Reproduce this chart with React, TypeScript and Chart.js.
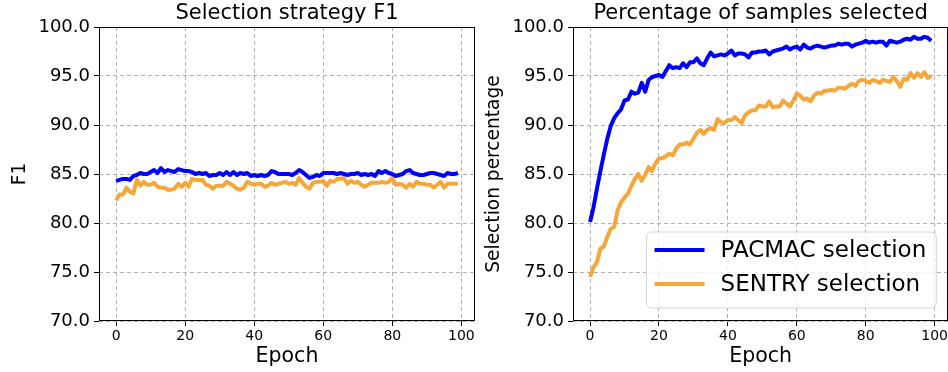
import React, { useEffect, useRef } from "react";
import { Chart, registerables } from "chart.js";
Chart.register(...registerables);

const EPOCHS = Array.from({ length: 100 }, (_, i) => i);
const X_TICKS = [0, 20, 40, 60, 80, 100];
const Y_TICKS = [70, 75, 80, 85, 90, 95, 100];

const SERIES_NAMES = ["PACMAC selection", "SENTRY selection"];

const F1_PACMAC = [
  84.3, 84.4, 84.5, 84.5, 84.4, 84.8, 84.9, 85.1, 85.0, 85.0,
  85.2, 85.4, 85.1, 85.6, 85.2, 85.4, 85.3, 85.2, 85.5, 85.4,
  85.3, 85.3, 85.2, 85.0, 85.1, 85.0, 85.1, 84.8, 84.9, 84.9,
  85.1, 84.9, 85.2, 84.9, 85.2, 84.9, 85.1, 85.0, 85.1, 84.8,
  84.9, 84.8, 84.9, 84.8, 84.9, 85.3, 85.2, 85.0, 85.0, 85.0,
  85.0, 84.9, 85.1, 85.4, 85.2, 84.9, 84.6, 84.7, 84.9, 84.8,
  85.1, 85.1, 85.1, 85.1, 85.0, 85.1, 85.0, 84.9, 85.0, 85.0,
  85.1, 84.9, 85.0, 84.9, 85.0, 84.8, 85.3, 85.1, 85.3, 85.1,
  85.0, 84.8, 84.9, 85.0, 85.3, 85.4, 85.1, 85.0, 84.9, 84.9,
  85.0, 85.1, 85.1, 85.0, 84.9, 84.8, 85.1, 85.0, 85.0, 85.1,
];
const F1_SENTRY = [
  82.3, 82.9, 82.9, 83.6, 83.2, 83.0, 84.4, 83.8, 84.2, 83.9,
  83.9, 84.1, 83.7, 83.6, 83.6, 83.4, 83.4, 83.5, 84.0, 83.7,
  84.1, 83.7, 84.5, 84.4, 84.4, 84.4, 83.9, 83.8, 83.5, 83.8,
  83.8, 83.8, 84.2, 84.0, 83.8, 83.5, 83.4, 83.6, 84.2, 84.0,
  83.9, 84.0, 84.0, 83.7, 83.8, 84.1, 83.9, 84.0, 84.1, 84.2,
  84.0, 84.1, 83.9, 84.6, 84.1, 83.7, 83.5, 84.1, 84.2, 84.2,
  84.3, 83.8, 84.3, 84.2, 84.5, 84.5, 84.6, 84.0, 84.3, 84.1,
  84.2, 83.9, 83.7, 83.9, 84.1, 84.1, 84.1, 84.2, 84.1, 84.2,
  84.6, 83.9, 84.0, 83.9, 83.6, 84.0, 83.7, 84.2, 84.0, 84.0,
  83.9, 83.9, 83.6, 83.9, 84.2, 83.6, 84.0, 84.0, 84.0, 84.0,
];
const SEL_PACMAC = [
  80.1, 81.6, 83.5, 85.3, 87.0, 88.6, 89.9, 90.7, 91.2, 91.6,
  92.5, 92.6, 93.4, 93.2, 93.3, 94.3, 93.4, 94.6, 94.9, 95.0,
  95.1, 94.9, 95.5, 96.1, 95.8, 95.9, 95.8, 96.3, 95.9, 96.4,
  96.4, 96.8, 96.3, 96.1, 96.8, 97.4, 97.0, 97.1, 97.2, 97.1,
  97.3, 97.6, 97.1, 97.3, 97.3, 97.2, 96.9, 97.4, 97.4, 97.5,
  97.5, 97.6, 97.2, 97.5, 97.6, 97.7, 97.8, 98.0, 97.7, 97.9,
  98.0, 97.7, 98.2, 97.9, 97.8, 98.0, 98.1, 98.0, 97.9, 98.0,
  98.1, 98.1, 98.3, 98.2, 98.3, 98.3, 98.0, 98.2, 98.3, 98.4,
  98.6, 98.4, 98.5, 98.4, 98.5, 98.5, 98.1, 98.6, 98.5, 98.4,
  98.5, 98.7, 98.8, 98.7, 99.0, 98.8, 98.8, 99.0, 98.9, 98.6,
];
const SEL_SENTRY = [
  74.5, 75.5, 76.0, 77.4, 77.6, 78.6, 79.4, 79.6, 81.3, 82.1,
  82.6, 83.0, 83.8, 84.5, 85.0, 84.3, 84.9, 85.7, 85.3, 86.1,
  86.6, 86.6, 86.8, 87.1, 86.9, 87.6, 88.0, 88.0, 88.2, 88.0,
  88.6, 89.2, 89.5, 89.1, 89.5, 89.7, 89.5, 90.6, 90.3, 90.2,
  90.5, 90.5, 90.8, 90.5, 90.2, 91.0, 91.3, 91.5, 91.5, 92.0,
  91.9, 91.9, 92.4, 91.8, 91.9, 91.9, 92.5, 92.2, 91.9, 92.5,
  93.2, 93.0, 92.6, 92.7, 92.4, 93.0, 93.3, 93.2, 93.5, 93.5,
  93.6, 93.5, 93.8, 93.8, 93.7, 94.0, 94.2, 94.0, 94.5, 94.6,
  94.5, 94.3, 94.6, 94.5, 94.3, 94.6, 94.5, 94.4, 94.9, 94.5,
  93.9, 94.7, 94.6, 95.3, 94.8, 95.3, 94.9, 95.4, 94.8, 95.0,
];

const BLUE = "#0000ff";
const ORANGE = "#f5a73c";
const FONT = '"DejaVu Sans", "Liberation Sans", sans-serif';

type Cfg = {
  title: string;
  yTitle: string;
  pacmac: number[];
  sentry: number[];
  yAxisWidth: number;
  yTitlePad: number;
  rightPad: number;
  legend: boolean;
};

function makeChart(canvas: HTMLCanvasElement, cfg: Cfg) {
  const decor = {
    id: "decor",
    afterDatasetsDraw(chart: any) {
      const { ctx, chartArea: a } = chart;
      ctx.save();
      ctx.strokeStyle = "#000";
      ctx.lineWidth = 1;
      const l = Math.round(a.left) + 0.5;
      const t = Math.round(a.top) + 0.5;
      const r = Math.round(a.right) - 0.5;
      const b = Math.round(a.bottom) - 0.5;
      ctx.strokeRect(l, t, r - l, b - t);
      ctx.fillStyle = "#000";
      ctx.font = `21px ${FONT}`;
      ctx.textAlign = "center";
      ctx.textBaseline = "alphabetic";
      ctx.fillText(cfg.title, (a.left + a.right) / 2, 19);
      ctx.restore();
    },
    afterDraw(chart: any) {
      if (!cfg.legend) return;
      const { ctx, chartArea: a } = chart;
      ctx.save();
      ctx.font = `23px ${FONT}`;
      const ds = chart.data.datasets;
      let maxW = 0;
      ds.forEach((d: any) => {
        maxW = Math.max(maxW, ctx.measureText(d.label).width);
      });
      const w = 8 + 50 + 16 + maxW + 10;
      const h = 76;
      const right = a.right - 12;
      const bottom = a.bottom - 13;
      const left = right - w;
      const top = bottom - h;
      const rad = 5;
      ctx.beginPath();
      ctx.moveTo(left + rad, top);
      ctx.arcTo(right, top, right, bottom, rad);
      ctx.arcTo(right, bottom, left, bottom, rad);
      ctx.arcTo(left, bottom, left, top, rad);
      ctx.arcTo(left, top, right, top, rad);
      ctx.closePath();
      ctx.fillStyle = "rgba(255,255,255,0.8)";
      ctx.fill();
      ctx.strokeStyle = "#d4d4d4";
      ctx.lineWidth = 1;
      ctx.stroke();
      ds.forEach((d: any, i: number) => {
        const cy = top + 18 + i * 34;
        ctx.strokeStyle = d.borderColor;
        ctx.lineWidth = 4;
        ctx.lineCap = "butt";
        ctx.beginPath();
        ctx.moveTo(left + 8, cy);
        ctx.lineTo(left + 58, cy);
        ctx.stroke();
        ctx.fillStyle = "#000";
        ctx.textAlign = "left";
        ctx.textBaseline = "middle";
        ctx.fillText(d.label, left + 74, cy + 1);
      });
      ctx.restore();
    },
  };

  const toPts = (vals: number[]) => EPOCHS.map((e, i) => ({ x: e, y: vals[i] }));

  return new Chart(canvas, {
    type: "line",
    data: {
      datasets: [
        {
          label: SERIES_NAMES[0],
          data: toPts(cfg.pacmac),
          borderColor: BLUE,
          backgroundColor: BLUE,
          borderWidth: 4,
          pointRadius: 0,
          tension: 0,
          borderJoinStyle: "round",
        },
        {
          label: SERIES_NAMES[1],
          data: toPts(cfg.sentry),
          borderColor: ORANGE,
          backgroundColor: ORANGE,
          borderWidth: 4,
          pointRadius: 0,
          tension: 0,
          borderJoinStyle: "round",
        },
      ],
    },
    options: {
      responsive: false,
      animation: false,
      events: [],
      layout: { padding: { left: 0, right: cfg.rightPad, top: 27, bottom: 0 } },
      plugins: {
        legend: { display: false },
        title: { display: false },
        tooltip: { enabled: false },
      },
      scales: {
        x: {
          type: "linear",
          min: -4.95,
          max: 103.95,
          afterBuildTicks: (s: any) => {
            s.ticks = X_TICKS.map((v) => ({ value: v }));
          },
          afterFit: (s: any) => {
            s.height = 51;
          },
          grid: {
            color: "#b0b0b0",
            lineWidth: 1,
            drawTicks: true,
            tickLength: 5,
            tickColor: "#000",
            tickWidth: 1,
            tickBorderDash: [],
          },
          border: { display: false, dash: [4, 3] },
          ticks: {
            color: "#000",
            font: { family: FONT, size: 14 },
            padding: 2,
            maxRotation: 0,
            callback: (v: any) => String(v),
          },
          title: {
            display: true,
            text: "Epoch",
            color: "#000",
            font: { family: FONT, size: 20.5 },
            padding: { top: 0, bottom: 3 },
          },
        },
        y: {
          type: "linear",
          min: 70,
          max: 100,
          afterBuildTicks: (s: any) => {
            s.ticks = Y_TICKS.map((v) => ({ value: v }));
          },
          afterFit: (s: any) => {
            s.width = cfg.yAxisWidth;
          },
          grid: {
            color: "#b0b0b0",
            lineWidth: 1,
            drawTicks: true,
            tickLength: 5,
            tickColor: "#000",
            tickWidth: 1,
            tickBorderDash: [],
          },
          border: { display: false, dash: [4, 3] },
          ticks: {
            color: "#000",
            font: { family: FONT, size: 18 },
            padding: 4,
            callback: (v: any) => Number(v).toFixed(1),
          },
          title: {
            display: true,
            text: cfg.yTitle,
            color: "#000",
            font: { family: FONT, size: 18.6 },
            padding: { top: cfg.yTitlePad, bottom: 0 },
          },
        },
      },
    } as any,
    plugins: [decor],
  });
}

export default function App() {
  const leftRef = useRef<HTMLCanvasElement | null>(null);
  const rightRef = useRef<HTMLCanvasElement | null>(null);

  useEffect(() => {
    const c1 = makeChart(leftRef.current!, {
      title: "Selection strategy F1",
      yTitle: "F1",
      pacmac: F1_PACMAC,
      sentry: F1_SENTRY,
      yAxisWidth: 99,
      yTitlePad: 9,
      rightPad: 5,
      legend: false,
    });
    const c2 = makeChart(rightRef.current!, {
      title: "Percentage of samples selected",
      yTitle: "Selection percentage",
      pacmac: SEL_PACMAC,
      sentry: SEL_SENTRY,
      yAxisWidth: 93,
      yTitlePad: 3,
      rightPad: 0,
      legend: true,
    });
    return () => {
      c1.destroy();
      c2.destroy();
    };
  }, []);

  return (
    <div
      style={{
        position: "absolute",
        left: 0,
        top: 0,
        width: 948,
        height: 372,
        overflow: "hidden",
        background: "#fff",
      }}
    >
      <canvas
        ref={leftRef}
        width={480}
        height={372}
        style={{ position: "absolute", left: 0, top: 0, width: 480, height: 372 }}
      />
      <canvas
        ref={rightRef}
        width={470}
        height={372}
        style={{ position: "absolute", left: 480, top: 0, width: 470, height: 372 }}
      />
    </div>
  );
}
